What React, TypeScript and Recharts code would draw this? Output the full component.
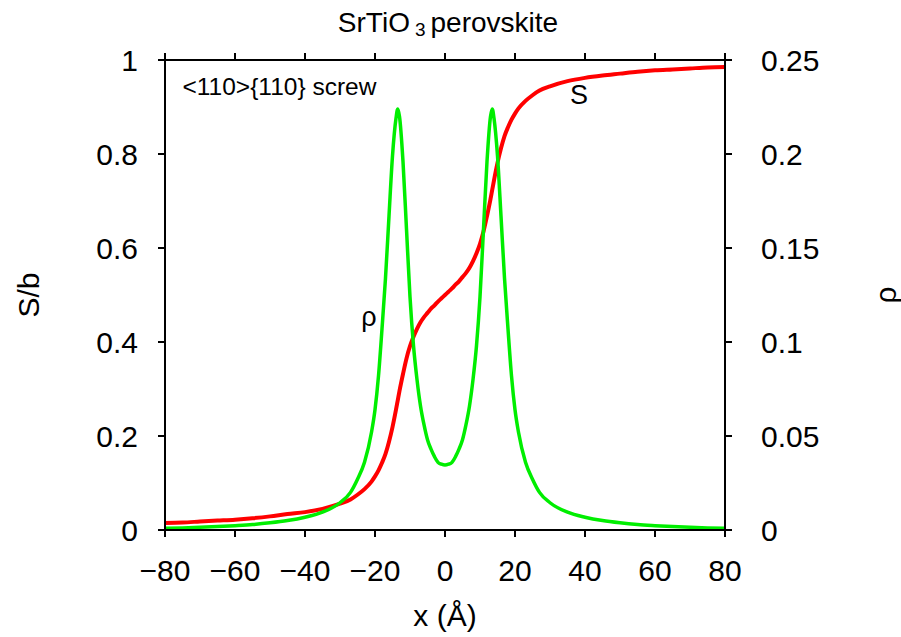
import { LineChart, Line, XAxis, YAxis, ReferenceDot } from "recharts";

// x positions (Å)
const xValues = [
  -80, -75, -70, -65, -60, -55, -50, -45, -40, -35, -30, -27, -25, -23, -21, -20, -19, -18, -17, -16, -15, -14, -13.5,
  -13, -12, -11, -10, -9, -8, -7, -6, -5, -4, -3, -2, -1, 0, 1, 2, 3, 4, 5, 6, 7, 8, 9, 10, 11, 12, 13, 13.5, 14, 15,
  16, 17, 18, 19, 20, 21, 23, 25, 27, 30, 35, 40, 45, 50, 55, 60, 65, 70, 75, 80,
];

// S/b (red curve, left axis)
const sValues = [
  0.015, 0.016, 0.018, 0.02, 0.022, 0.025, 0.029, 0.034, 0.038, 0.045, 0.056, 0.065, 0.075, 0.087, 0.103, 0.114, 0.127,
  0.143, 0.162, 0.188, 0.219, 0.256, 0.276, 0.296, 0.332, 0.365, 0.391, 0.411, 0.428, 0.442, 0.453, 0.462, 0.471, 0.478,
  0.486, 0.493, 0.5, 0.507, 0.514, 0.522, 0.529, 0.538, 0.547, 0.558, 0.572, 0.589, 0.609, 0.635, 0.668, 0.704, 0.724,
  0.744, 0.781, 0.812, 0.838, 0.857, 0.873, 0.886, 0.897, 0.913, 0.925, 0.935, 0.944, 0.955, 0.962, 0.967, 0.971, 0.975,
  0.978, 0.98, 0.982, 0.984, 0.985,
];

// rho (green curve, right axis)
const rhoValues = [
  0.0009, 0.0011, 0.0014, 0.0018, 0.0023, 0.0029, 0.0038, 0.005, 0.0068, 0.0095, 0.0145, 0.02, 0.027, 0.036, 0.052,
  0.064, 0.082, 0.107, 0.134, 0.167, 0.199, 0.219, 0.224, 0.22, 0.196, 0.16, 0.124, 0.098, 0.08, 0.066, 0.056, 0.048,
  0.043, 0.039, 0.036, 0.035, 0.0346, 0.035, 0.036, 0.039, 0.043, 0.048, 0.056, 0.066, 0.08, 0.098, 0.124, 0.16, 0.196,
  0.22, 0.224, 0.219, 0.199, 0.167, 0.134, 0.107, 0.082, 0.064, 0.052, 0.036, 0.027, 0.02, 0.0145, 0.0095, 0.0068, 0.005,
  0.0038, 0.0029, 0.0023, 0.0018, 0.0014, 0.0011, 0.0009,
];

const xTicks = [-80, -60, -40, -20, 0, 20, 40, 60, 80];
const sTicks = [0, 0.2, 0.4, 0.6, 0.8, 1];
const rhoTicks = [0, 0.05, 0.1, 0.15, 0.2, 0.25];

const data = xValues.map((x, i) => ({ x, s: sValues[i], rho: rhoValues[i] }));

const FONT = "'Liberation Sans', Arial, sans-serif";
const tickStyle = { fill: "#000", fontSize: 30, fontFamily: FONT };
const labelStyle = { fill: "#000", fontSize: 30, fontFamily: FONT, textAnchor: "middle" as const };
const axisLine = { stroke: "#000", strokeWidth: 2 };
const tickLine = { stroke: "#000", strokeWidth: 2 };

const fmtX = (v: number) => (v < 0 ? "\u2212" + Math.abs(v) : String(v));

export default function App() {
  return (
    <div style={{ position: "absolute", left: 0, top: 0, width: 901, height: 637, background: "#fff", fontFamily: FONT }}>
      <div
        style={{
          position: "absolute",
          top: 7,
          left: 0,
          width: 896,
          textAlign: "center",
          fontSize: 28,
          lineHeight: "32px",
          color: "#000",
        }}
      >
        SrTiO<sub style={{ fontSize: 19, verticalAlign: "-4px", margin: "0 5px" }}>3</sub>perovskite
      </div>
      <LineChart width={901} height={637} data={data} margin={{ top: 30, right: 0, bottom: 0, left: 0 }}>
        <XAxis
          xAxisId="bottom"
          dataKey="x"
          type="number"
          domain={[-80, 80]}
          ticks={xTicks}
          allowDataOverflow
          height={107}
          tick={tickStyle}
          tickFormatter={fmtX}
          axisLine={axisLine}
          tickLine={tickLine}
          tickSize={7}
          tickMargin={23}
          label={{ value: "x (Å)", position: "insideBottom", offset: 11, style: labelStyle }}
        />
        <XAxis
          xAxisId="top"
          orientation="top"
          dataKey="x"
          type="number"
          domain={[-80, 80]}
          ticks={xTicks}
          allowDataOverflow
          height={30}
          tickFormatter={() => ""}
          axisLine={axisLine}
          tickLine={tickLine}
          tickSize={7}
        />
        <YAxis
          yAxisId="left"
          type="number"
          domain={[0, 1]}
          ticks={sTicks}
          allowDataOverflow
          width={165}
          tick={tickStyle}
          axisLine={axisLine}
          tickLine={tickLine}
          tickSize={7}
          tickMargin={20}
          label={{ value: "S/b", angle: -90, position: "insideLeft", offset: 28, style: labelStyle }}
        />
        <YAxis
          yAxisId="right"
          orientation="right"
          type="number"
          domain={[0, 0.25]}
          ticks={rhoTicks}
          allowDataOverflow
          width={176}
          tick={tickStyle}
          axisLine={axisLine}
          tickLine={tickLine}
          tickSize={7}
          tickMargin={29}
          label={{ value: "ρ", angle: -90, position: "insideRight", offset: 16, style: labelStyle }}
        />
        <Line
          xAxisId="bottom"
          yAxisId="left"
          type="monotone"
          dataKey="s"
          stroke="#ff0000"
          strokeWidth={4}
          dot={false}
          isAnimationActive={false}
        />
        <Line
          xAxisId="bottom"
          yAxisId="right"
          type="monotone"
          dataKey="rho"
          stroke="#00ee00"
          strokeWidth={3.5}
          dot={false}
          isAnimationActive={false}
        />
        <ReferenceDot
          xAxisId="bottom"
          yAxisId="left"
          x={-75}
          y={0.945}
          r={0}
          label={{ value: "<110>{110} screw", position: "right", offset: 0, style: { fill: "#000", fontSize: 24.5, fontFamily: FONT } }}
        />
        <ReferenceDot
          xAxisId="bottom"
          yAxisId="left"
          x={-21.7}
          y={0.455}
          r={0}
          label={{ value: "ρ", position: "center", style: { fill: "#000", fontSize: 27, fontFamily: FONT } }}
        />
        <ReferenceDot
          xAxisId="bottom"
          yAxisId="left"
          x={38.3}
          y={0.926}
          r={0}
          label={{ value: "S", position: "center", style: { fill: "#000", fontSize: 27, fontFamily: FONT } }}
        />
      </LineChart>
    </div>
  );
}
